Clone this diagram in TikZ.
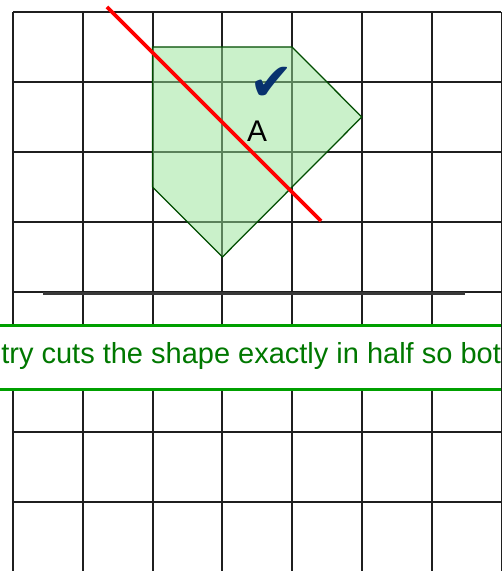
\documentclass[tikz,border=0pt]{standalone}
\usepackage{fontspec}
\setmainfont{Liberation Sans}
\newfontfamily\symfont{DejaVu Sans}
\usepackage{xcolor}
\usetikzlibrary{positioning}

\definecolor{shapegreen}{RGB}{150,228,150}
\definecolor{captiongreen}{RGB}{0,120,0}
\definecolor{bandgreen}{RGB}{0,160,0}
\definecolor{ticknavy}{RGB}{8,50,110}

\begin{document}
\begin{tikzpicture}[
  x=0.02cm, y=-0.02cm,
  gridline/.style={draw=black!88, line width=0.04cm},
  baseline/.style={draw=black!78, line width=0.06cm},
  shapefill/.style={fill=shapegreen, fill opacity=0.5},
  shapeedge/.style={draw=black!70!green, line width=0.025cm},
  mirror/.style={draw=red, line width=0.075cm},
  band/.style={draw=bandgreen, line width=0.06cm},
  lbl/.style={inner sep=0pt, font=\fontsize{17}{20}\selectfont}
]
  \useasboundingbox[fill=white] (0,0) rectangle (501,571);

  % Grid
  \foreach \i in {0,...,7}
    \draw[gridline] (13+69.8*\i,12) -- (13+69.8*\i,571);
  \foreach \j in {0,...,8}
    \draw[gridline] (13,12+70*\j) -- (501,12+70*\j);

  % Shape A, tinted over the grid
  \fill[shapefill] (152.6,47) -- (292,47) -- (361.8,117) -- (222.4,257) -- (152.6,187) -- cycle;
  \draw[shapeedge] (152.6,47) -- (292,47) -- (361.8,117) -- (222.4,257) -- (152.6,187) -- cycle;

  % Base line
  \coordinate (bl) at (43,293);
  \coordinate (br) at (465,293);
  \draw[baseline] (bl) -- (br);

  % Line of symmetry
  \coordinate (symtop) at (107,7);
  \coordinate (symbot) at (321,221);
  \draw[mirror] (symtop) -- (symbot);

  % Labels
  \node[lbl, anchor=base] (labelA) at (257,141) {A};
  \node[lbl, text=ticknavy, font=\symfont\fontsize{30}{32}\selectfont] (tick) at (272,84) {✔};

  % Caption band
  \fill[white] (0,325) rectangle (501,389);
  \draw[band] (0,325) -- (501,325);
  \draw[band] (0,389) -- (501,389);
  \node[lbl, text=captiongreen, anchor=base west, font=\fontsize{16.5}{20}\selectfont] (caption) at (1,363)
    {try cuts the shape exactly in half so bot};
\end{tikzpicture}
\end{document}
